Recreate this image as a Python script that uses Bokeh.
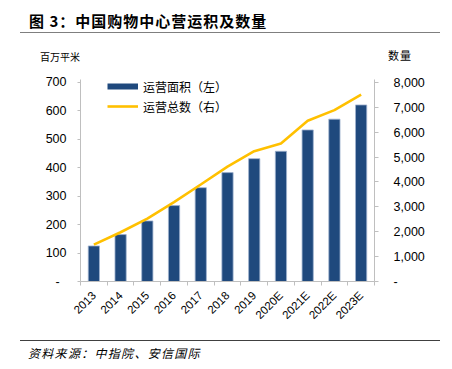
import math
from bokeh.plotting import figure
from bokeh.layouts import column
from bokeh.models import (Range1d, LinearAxis, FixedTicker, NumeralTickFormatter,
                          Legend, LegendItem, ColumnDataSource, Div)
from bokeh.embed import file_html
from bokeh.resources import INLINE

years = ["2013", "2014", "2015", "2016", "2017", "2018", "2019",
         "2020E", "2021E", "2022E", "2023E"]
area = [125, 165, 213, 267, 330, 383, 432, 458, 533, 571, 621]          # 百万平米 (left)
count = [1480, 1980, 2530, 3190, 3900, 4620, 5240, 5550, 6460, 6890, 7510]  # 数量 (right)
left_ticks = [0, 100, 200, 300, 400, 500, 600, 700]
right_ticks = [0, 1000, 2000, 3000, 4000, 5000, 6000, 7000, 8000]

title_text = "图 3：中国购物中心营运积及数量"
left_unit = "百万平米"
right_unit = "数量"
bar_name = "运营面积（左）"
line_name = "运营总数（右）"
source_text = "资料来源：中指院、安信国际"

xs = list(range(len(years)))
src = ColumnDataSource(dict(x=xs, area=area, count=count))

BLUE = "#1F497D"
GOLD = "#FFC000"
AXIS = "#BFBFBF"
NUMFONT = "Liberation Sans"
CJK = "Noto Sans CJK SC"
W = 452

p = figure(width=W, height=263, output_backend="svg", toolbar_location=None,
           x_range=Range1d(-0.5, len(years) - 0.5), y_range=Range1d(0, 710.5),
           min_border_left=80, min_border_right=78, min_border_top=11,
           min_border_bottom=50, background_fill_color="white",
           border_fill_color="white", margin=0)
p.extra_y_ranges = {"cnt": Range1d(0, 8120)}
p.xgrid.visible = False
p.ygrid.visible = False
p.outline_line_color = None

p.vbar(x="x", top="area", width=0.42, source=src, fill_color=BLUE,
       line_color="#9FB3CF", line_width=0.8)
p.line(x="x", y="count", y_range_name="cnt", source=src, line_color=GOLD,
       line_width=2.6)

# x axis
xa = p.xaxis[0]
xa.ticker = FixedTicker(ticks=xs, minor_ticks=[i - 0.5 for i in range(len(years) + 1)])
xa.major_label_overrides = {i: y for i, y in enumerate(years)}
xa.major_tick_out = 0
xa.major_tick_in = 0
xa.minor_tick_out = 4
xa.minor_tick_in = 0
xa.minor_tick_line_color = AXIS
xa.axis_line_color = AXIS
xa.major_label_orientation = math.pi / 4
xa.major_label_text_font = NUMFONT
xa.major_label_text_font_size = "11.5px"
xa.major_label_text_color = "#000000"
xa.major_label_standoff = 8

# left axis
ya = p.yaxis[0]
ya.ticker = FixedTicker(ticks=left_ticks)
ya.major_label_overrides = {0: "-  "}
ya.major_tick_out = 3
ya.major_tick_in = 0
ya.minor_tick_out = 0
ya.minor_tick_in = 0
ya.major_tick_line_color = AXIS
ya.axis_line_color = AXIS
ya.major_label_text_font = NUMFONT
ya.major_label_text_font_size = "12.5px"
ya.major_label_text_color = "#000000"
ya.major_label_standoff = 11

# right axis
ra = LinearAxis(y_range_name="cnt", ticker=FixedTicker(ticks=right_ticks),
                formatter=NumeralTickFormatter(format="0,0"))
ra.major_label_overrides = {0: "-"}
ra.major_tick_out = 4
ra.major_tick_in = 0
ra.minor_tick_out = 0
ra.minor_tick_in = 0
ra.major_tick_line_color = AXIS
ra.axis_line_color = AXIS
ra.major_label_text_font = NUMFONT
ra.major_label_text_font_size = "12.5px"
ra.major_label_text_color = "#000000"
ra.major_label_standoff = 15
p.add_layout(ra, "right")

# legend (line samples)
leg_bar = p.line(x=[0, 0], y=[-100, -100], line_color=BLUE, line_width=6)
leg_line = p.line(x=[0, 0], y=[-100, -100], line_color=GOLD, line_width=2.6)
legend = Legend(items=[LegendItem(label=bar_name, renderers=[leg_bar]),
                       LegendItem(label=line_name, renderers=[leg_line])],
                location=(27, 165), padding=0, margin=0, spacing=0,
                glyph_width=31, glyph_height=20, label_height=20,
                label_standoff=5, border_line_color=None,
                background_fill_alpha=0,
                label_text_font=CJK, label_text_font_size="12px",
                label_text_color="#000000")
p.add_layout(legend, "center")

FONT_CSS = "font-family:'Noto Sans CJK SC';color:#000;white-space:nowrap;"

title_div = Div(width=W, height=38, margin=0, text=(
    f'<div style="position:relative;width:{W}px;height:38px;">'
    f'<span style="position:absolute;left:29px;top:11px;line-height:20px;{FONT_CSS}'
    f'font-size:15px;font-weight:bold;letter-spacing:1px;">{title_text}</span>'
    f'<div style="position:absolute;left:20px;top:32px;width:420px;height:0;'
    f'border-top:1.5px solid #7F7F7F;"></div></div>'))

unit_div = Div(width=W, height=30, margin=0, text=(
    f'<div style="position:relative;width:{W}px;height:30px;">'
    f'<span style="position:absolute;left:40px;top:11px;line-height:16px;{FONT_CSS}'
    f'font-size:10px;">{left_unit}</span>'
    f'<span style="position:absolute;left:388px;top:9px;line-height:16px;{FONT_CSS}'
    f'font-size:11px;letter-spacing:1px;">{right_unit}</span></div>'))

source_div = Div(width=W, height=38, margin=0, text=(
    f'<div style="position:relative;width:{W}px;height:38px;">'
    f'<div style="position:absolute;left:20px;top:9px;width:420px;height:0;'
    f'border-top:1px solid #404040;"></div>'
    f'<span style="position:absolute;left:28px;top:14px;line-height:16px;{FONT_CSS}'
    f'font-size:12px;font-style:italic;letter-spacing:1.3px;">{source_text}</span></div>'))

layout = column(title_div, unit_div, p, source_div, spacing=0, margin=0)

open("out.html", "w").write(file_html(layout, INLINE))
